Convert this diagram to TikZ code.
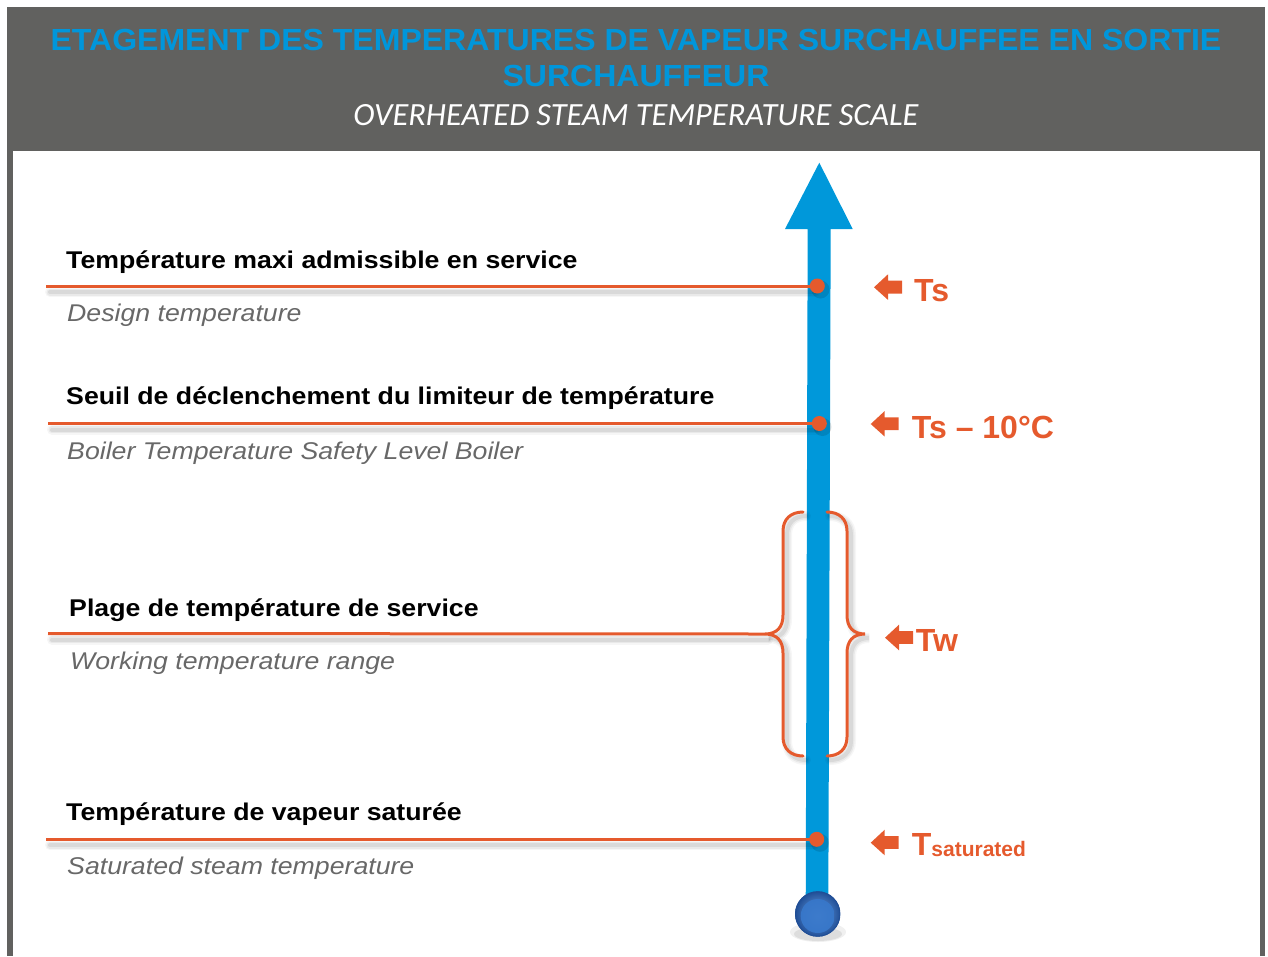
\documentclass[tikz,border=0pt]{standalone}
\usepackage{fontspec}
\usepackage{graphicx}
\setmainfont{Liberation Sans}
\newfontfamily\subfont{Carlito}
\definecolor{headgray}{RGB}{97,97,95}
\definecolor{titleblue}{RGB}{0,150,219}
\definecolor{scaleblue}{RGB}{0,152,218}
\definecolor{markorange}{RGB}{229,90,45}
\definecolor{notegray}{RGB}{104,104,104}
\definecolor{ballmid}{RGB}{55,118,200}
\definecolor{ballrim}{RGB}{32,78,150}
\definecolor{balltop}{RGB}{110,165,230}

\newcommand{\wide}[1]{\scalebox{1.103}[1]{#1}}
% soft grey shadow under a path
\newcommand{\softshadow}[1]{%
  \foreach \w/\o in {10/0.035,7/0.05,4/0.07}{%
    \draw[black, opacity=\o, line width=\w pt, line cap=round] #1;}}
% small block arrow pointing left, tip at #1
\newcommand{\pointer}[1]{%
  \fill[markorange] (#1) -- ++(14,-13) -- ++(0,6.4) -- ++(14,0) -- ++(0,12.8)
    -- ++(-14,0) -- ++(0,6.4) -- cycle;}

\begin{document}
\begin{tikzpicture}[x=1pt,y=-1pt,
  frtext/.style={anchor=base west, inner sep=0, text=black,
    font=\fontsize{24.2}{28}\selectfont\bfseries},
  entext/.style={anchor=base west, inner sep=0, text=notegray,
    font=\fontsize{24.2}{28}\selectfont\itshape},
  tagtext/.style={anchor=base west, inner sep=0, text=markorange,
    font=\fontsize{32}{36}\selectfont\bfseries},
  levelline/.style={draw=markorange, line width=3pt},
  bracepath/.style={draw=markorange, line width=3pt, line cap=round},
  leveldot/.style={circle, fill=markorange, minimum size=15pt, inner sep=0}]

\useasboundingbox (0,0) rectangle (1268,956);

% frame: header band and side borders
\fill[headgray] (7,7) rectangle (1265,151);
\fill[headgray] (7,151) rectangle (12.5,956);
\fill[headgray] (1259.5,151) rectangle (1265,956);

\node[anchor=base, inner sep=0, text=titleblue,
  font=\fontsize{30.5}{36}\selectfont\bfseries] (title1) at (636,50)
  {\scalebox{1.05}[1]{ETAGEMENT DES TEMPERATURES DE VAPEUR SURCHAUFFEE EN SORTIE}};
\node[anchor=base, inner sep=0, text=titleblue,
  font=\fontsize{30.5}{36}\selectfont\bfseries] (title2) at (636,86.7)
  {\scalebox{1.05}[1]{SURCHAUFFEUR}};
\node[anchor=base, inner sep=0, text=white,
  font=\fontsize{32.4}{36}\subfont\itshape] (subtitle) at (636,125)
  {OVERHEATED STEAM TEMPERATURE SCALE};

% temperature scale arrow
\fill[scaleblue] (819.3,162.7) -- (852.7,229) -- (830.7,229) -- (828.3,905)
  -- (805.7,905) -- (807.7,229) -- (785,229) -- cycle;

% level anchors
\coordinate (s1) at (46,286);    \coordinate (p1) at (817.3,286);
\coordinate (s2) at (48,423.5);  \coordinate (p2) at (819.3,423.5);
\coordinate (s3) at (48,633.5);  \coordinate (braceL) at (765,634);
\coordinate (braceR) at (865,634);
\coordinate (s4) at (46,839.3);  \coordinate (p4) at (816.7,839.3);

% shadows
\softshadow{(50,292) -- (815,292)}
\softshadow{(52,429.5) -- (817,429.5)}
\softshadow{(52,639.5) -- (768,639.5)}
\softshadow{(50,845.3) -- (814,845.3)}
\softshadow{(806,516) .. controls (794,516) and (787,523) .. (787,535) -- (787,619) .. controls (787,631) and (781,638) .. (769,638) .. controls (781,638) and (787,645) .. (787,657) -- (787,741) .. controls (787,753) and (794,760) .. (806,760)}
\softshadow{(830,516) .. controls (842,516) and (851,523) .. (851,535) -- (851,619) .. controls (851,631) and (857,638) .. (869,638) .. controls (857,638) and (851,645) .. (851,657) -- (851,741) .. controls (851,753) and (842,760) .. (830,760)}
\foreach \c in {(820.5,289.5),(822.5,427),(820,842.8)}
  \fill[black, opacity=0.12] \c circle (9);

% level lines
\draw[levelline] (s1) -- (p1);
\draw[levelline] (s2) -- (p2);
\draw[levelline] (s3) -- (braceL);
\draw[levelline] (s4) -- (p4);

% braces around the working range
\draw[bracepath] (803,512) .. controls (791,512) and (783,519) .. (783,531)
  -- (783,615) .. controls (783,627) and (777,634) .. (braceL)
  .. controls (777,634) and (783,641) .. (783,653)
  -- (783,737) .. controls (783,749) and (791,756) .. (803,756);
\draw[bracepath] (827,512) .. controls (839,512) and (847,519) .. (847,531)
  -- (847,615) .. controls (847,627) and (853,634) .. (braceR)
  .. controls (853,634) and (847,641) .. (847,653)
  -- (847,737) .. controls (847,749) and (839,756) .. (827,756);

% level dots
\node[leveldot] (d1) at (p1) {};
\node[leveldot] (d2) at (p2) {};
\node[leveldot] (d4) at (p4) {};

% bulb at the foot of the scale
\fill[black, opacity=0.08] (818,934) ellipse (24 and 7);
\fill[black, opacity=0.06] (818,932) ellipse (28 and 10);
\shade[inner color=balltop, outer color=ballrim] (817.7,914) circle (22.7);
\shade[inner color=ballmid!90!balltop, outer color=ballmid] (817.7,916) circle (17);
\draw[ballrim, line width=0.8pt] (817.7,914) circle (22.3);

% value tags
\coordinate (a1) at (874,287.3);
\coordinate (a2) at (870.7,424);
\coordinate (a3) at (885,637.7);
\coordinate (a4) at (870.7,842.7);
\pointer{a1}
\pointer{a2}
\pointer{a3}
\pointer{a4}
\node[tagtext] (ts) at (914,301) {Ts};
\node[tagtext] (ts10) at (911.7,438.3) {Ts – 10°C};
\node[tagtext] (tw) at (915.7,651) {Tw};
\node[tagtext] (tsat) at (911.7,855.7)
  {T{\fontsize{21}{24}\selectfont\raisebox{-1pt}{saturated}}};

% level descriptions
\node[frtext] (f1) at (66,268.5) {\wide{Température maxi admissible en service}};
\node[entext] (e1) at (67,321.7) {\wide{Design temperature}};
\node[frtext] (f2) at (66,404) {\wide{Seuil de déclenchement du limiteur de température}};
\node[entext] (e2) at (67,459) {\wide{Boiler Temperature Safety Level Boiler}};
\node[frtext] (f3) at (69,616) {\wide{Plage de température de service}};
\node[entext] (e3) at (70,669.3) {\wide{Working temperature range}};
\node[frtext] (f4) at (66,820.7) {\wide{Température de vapeur saturée}};
\node[entext] (e4) at (67,874.3) {\wide{Saturated steam temperature}};

\end{tikzpicture}
\end{document}
